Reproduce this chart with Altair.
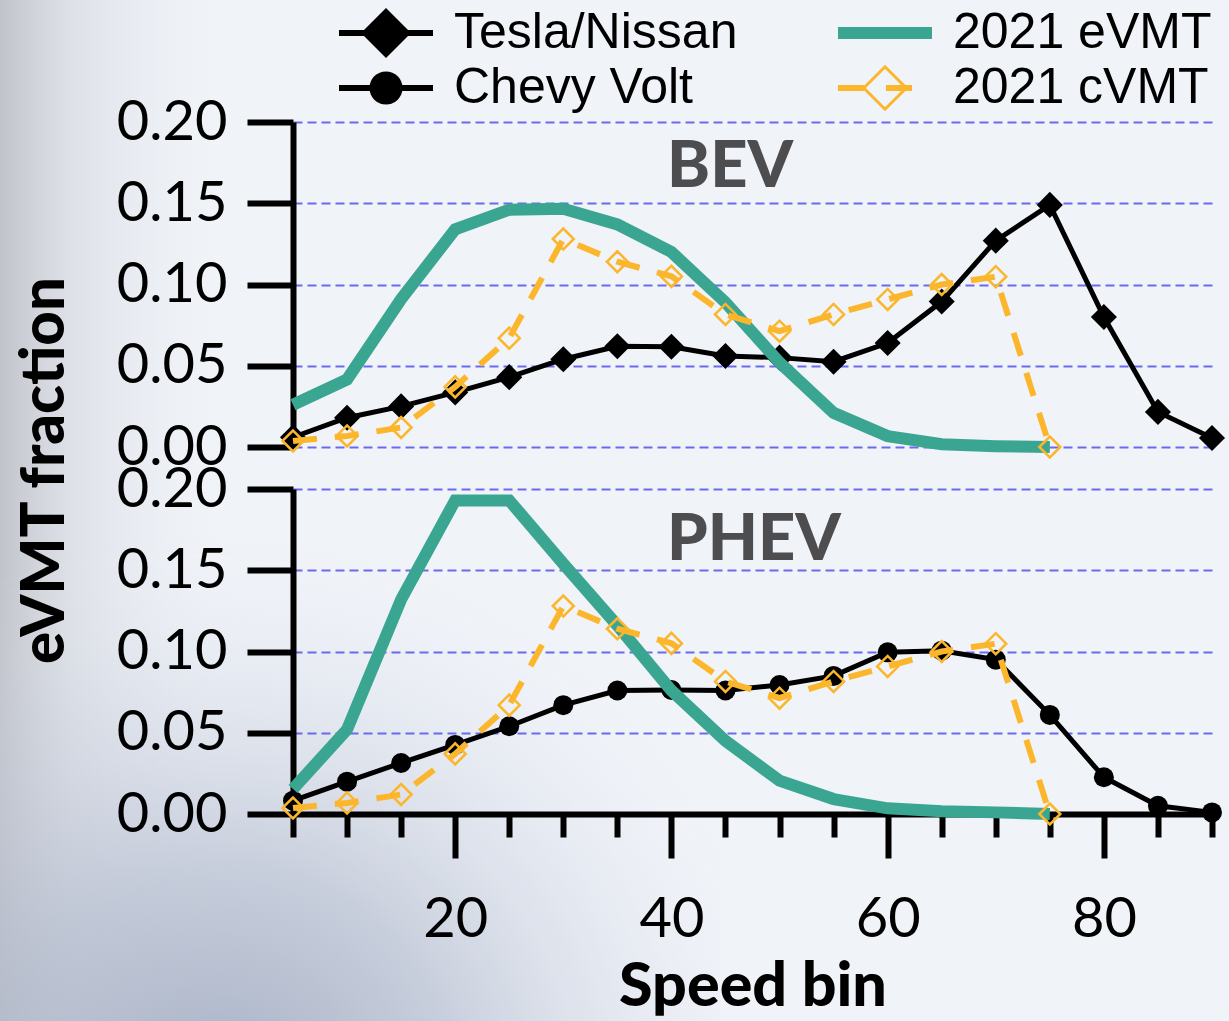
import altair as alt
import pandas as pd

# Speed bins (mph); the 2021 survey distributions stop at the 75 mph bin
speed_bins = [5, 10, 15, 20, 25, 30, 35, 40, 45, 50, 55, 60, 65, 70, 75, 80, 85, 90]
speed_bins_2021 = speed_bins[:15]

# Fraction of eVMT in each speed bin
tesla_nissan = [0.006, 0.018, 0.025, 0.0336, 0.043, 0.054, 0.062, 0.0617, 0.056,
                0.055, 0.0525, 0.064, 0.0895, 0.127, 0.149, 0.080, 0.0216, 0.0055]
chevy_volt = [0.0082, 0.0199, 0.0314, 0.0425, 0.054, 0.067, 0.076, 0.0763, 0.076,
              0.0794, 0.085, 0.0995, 0.1005, 0.095, 0.061, 0.0226, 0.0051, 0.001]
evmt_2021_bev = [0.026, 0.0416, 0.091, 0.134, 0.146, 0.1466, 0.137, 0.120, 0.089,
                 0.052, 0.021, 0.0067, 0.0017, 0.0005, 0.0]
evmt_2021_phev = [0.0154, 0.052, 0.132, 0.193, 0.193, 0.154, 0.116, 0.076, 0.045,
                  0.0205, 0.0092, 0.0035, 0.0017, 0.001, 0.0]
cvmt_2021 = [0.0037, 0.0068, 0.012, 0.037, 0.067, 0.128, 0.114, 0.105, 0.0816,
             0.0713, 0.0816, 0.0908, 0.100, 0.1048, 0.0]

series_names = ["Tesla/Nissan", "Chevy Volt", "2021 eVMT", "2021 cVMT"]
y_ticks = [0.0, 0.05, 0.10, 0.15, 0.20]

BLACK = "#000000"
TEAL = "#3aa692"
ORANGE = "#fbb62b"
GRID = "#6a6aee"
LABEL_GREY = "#4d4d4f"
BG = "#f0f3f8"

PANEL_W, PANEL_H = 919, 325
LEFT, CANVAS_W, CANVAS_H = 293, 1229, 1021
X_SCALE = alt.Scale(domain=[5, 90], nice=False, zero=False)
Y_SCALE = alt.Scale(domain=[0, 0.2], nice=False, zero=False)


def frame(series, xs, ys):
    return pd.DataFrame({"series": series, "speed": xs, "fraction": ys})


def y_axis(**extra):
    return alt.Axis(
        values=y_ticks, format=".2f",
        domainColor=BLACK, domainWidth=6,
        tickColor=BLACK, tickWidth=6, tickSize=46,
        labelFont="Lato", labelFontWeight=400, labelFontSize=56,
        labelColor=BLACK, labelPadding=20,
        grid=True, gridColor=GRID, gridDash=[9, 5], gridWidth=2,
        titleFont="Lato", titleFontWeight=900, titleFontSize=60, titleColor=BLACK,
        **extra,
    )


x_axis_bottom = alt.Axis(
    values=speed_bins,
    labelExpr="datum.value % 20 === 0 ? datum.label : ''",
    domainColor=BLACK, domainWidth=6,
    tickColor=BLACK, tickWidth=6,
    tickSize={"condition": {"test": "datum.value % 20 === 0", "value": 44}, "value": 23},
    labelFont="Lato", labelFontWeight=400, labelFontSize=56, labelColor=BLACK,
    labelPadding=34, labelFlush=False,
    grid=False,
    title="Speed bin",
    titleFont="Lato", titleFontWeight=900, titleFontSize=61, titleColor=BLACK,
    titleY=173, titleBaseline="middle",
)


def panel(label, vehicle, vehicle_vals, vehicle_shape, vehicle_size,
          evmt_vals, x_axis, y_ax, label_y):
    vehicle_df = frame(vehicle, speed_bins, vehicle_vals)
    evmt_df = frame("2021 eVMT", speed_bins_2021, evmt_vals)
    cvmt_df = frame("2021 cVMT", speed_bins_2021, cvmt_2021)

    x = alt.X("speed:Q", scale=X_SCALE, axis=x_axis)
    y = alt.Y("fraction:Q", scale=Y_SCALE, axis=y_ax)

    vehicle_line = alt.Chart(vehicle_df).mark_line(
        color=BLACK, strokeWidth=5).encode(x=x, y=y)
    vehicle_pts = alt.Chart(vehicle_df).mark_point(
        shape=vehicle_shape, filled=True, size=vehicle_size,
        color=BLACK, opacity=1).encode(x=x, y=y)
    evmt_line = alt.Chart(evmt_df).mark_line(
        color=TEAL, strokeWidth=12).encode(x=x, y=y)
    cvmt_line = alt.Chart(cvmt_df).mark_line(
        color=ORANGE, strokeWidth=6, strokeDash=[24, 18]).encode(x=x, y=y)
    cvmt_pts = alt.Chart(cvmt_df).mark_point(
        shape="diamond", filled=False, size=440, strokeWidth=2.5,
        color=ORANGE, opacity=1).encode(x=x, y=y)
    name = alt.Chart(pd.DataFrame({"panel": [label]})).mark_text(
        align="left", baseline="middle", font="Lato", fontWeight=900,
        fontSize=65, color=LABEL_GREY).encode(
        text="panel:N", x=alt.value(374), y=alt.value(label_y))

    return alt.layer(vehicle_line, vehicle_pts, evmt_line, cvmt_line,
                     cvmt_pts, name).properties(width=PANEL_W, height=PANEL_H)


bev = panel("BEV", "Tesla/Nissan", tesla_nissan, "diamond", 680,
            evmt_2021_bev, None,
            y_axis(title="eVMT fraction", titleX=-248, titleY=348,
                   titleAngle=270, titleAlign="center", titleBaseline="middle"),
            45)
phev = panel("PHEV", "Chevy Volt", chevy_volt, "circle", 400,
             evmt_2021_phev, x_axis_bottom, y_axis(title=None), 51)

# Soft grey backdrop shading along the left edge and the lower-left corner
backdrop = pd.DataFrame({"layer": ["backdrop"]})
edge_shade = alt.Chart(backdrop).mark_rect(
    clip=False,
    fill=alt.LinearGradient(
        gradient="linear", x1=0, x2=1, y1=0, y2=0,
        stops=[alt.GradientStop(offset=0, color="rgba(188,190,197,0.9)"),
               alt.GradientStop(offset=0.06, color="rgba(205,208,215,0.5)"),
               alt.GradientStop(offset=0.18, color="rgba(230,234,241,0)"),
               alt.GradientStop(offset=1, color="rgba(230,234,241,0)")]),
).encode(x=alt.value(-LEFT), x2=alt.value(CANVAS_W - LEFT),
         y=alt.value(0), y2=alt.value(CANVAS_H))
corner_shade = alt.Chart(backdrop).mark_rect(
    clip=False,
    fill=alt.RadialGradient(
        gradient="radial", x1=0.3, y1=0.97, r1=0, x2=0.3, y2=0.97, r2=0.8,
        stops=[alt.GradientStop(offset=0, color="rgba(160,170,192,0.95)"),
               alt.GradientStop(offset=0.4, color="rgba(174,183,202,0.65)"),
               alt.GradientStop(offset=0.75, color="rgba(200,207,222,0.25)"),
               alt.GradientStop(offset=1, color="rgba(230,235,243,0)")]),
).encode(x=alt.value(-LEFT), x2=alt.value(720 - LEFT),
         y=alt.value(520), y2=alt.value(CANVAS_H))

# Legend: two columns of two entries each
legend_df = pd.DataFrame({"series": series_names})
legend_df["col"] = legend_df.index // 2
legend_df["row"] = legend_df.index % 2

lx = alt.X("col:O", scale=alt.Scale(type="point", range=[93, 592], padding=0), axis=None)
ly = alt.Y("row:O", scale=alt.Scale(type="point", range=[33, 88], padding=0), axis=None)
lcolor = alt.Color("series:N", scale=alt.Scale(domain=series_names,
                   range=[BLACK, BLACK, TEAL, ORANGE]), legend=None)

leg_rules = alt.Chart(legend_df).mark_rule(xOffset=-47, x2Offset=47).encode(
    x=lx, x2="col:O", y=ly, color=lcolor,
    strokeWidth=alt.condition("datum.series === '2021 eVMT'", alt.value(12), alt.value(6)),
    strokeDash=alt.condition("datum.series === '2021 cVMT'", alt.value([26, 22]), alt.value([1, 0])),
)
leg_filled = alt.Chart(legend_df).transform_filter(
    alt.FieldOneOfPredicate(field="series", oneOf=series_names[:2])
).mark_point(filled=True, opacity=1, color=BLACK).encode(
    x=lx, y=ly,
    shape=alt.Shape("series:N", scale=alt.Scale(domain=series_names[:2],
                    range=["diamond", "circle"]), legend=None),
    size=alt.condition("datum.series === 'Tesla/Nissan'", alt.value(2500), alt.value(1100)),
)
leg_hollow = alt.Chart(legend_df).transform_filter(
    alt.FieldEqualPredicate(field="series", equal="2021 cVMT")
).mark_point(shape="diamond", filled=False, size=1800, strokeWidth=3,
             color=ORANGE, opacity=1).encode(x=lx, y=ly)
leg_text = alt.Chart(legend_df).mark_text(
    align="left", baseline="middle", dx=68, font="Liberation Sans",
    fontSize=50, color=BLACK).encode(x=lx, y=ly, text="series:N")

legend = alt.layer(edge_shade, corner_shade, leg_rules, leg_filled,
                   leg_hollow, leg_text).properties(width=PANEL_W, height=80)

chart = alt.vconcat(legend, bev, phev, spacing=42, bounds="flush").properties(
    autosize=alt.AutoSizeParams(type="none"),
    padding={"left": LEFT, "top": 0, "right": CANVAS_W - LEFT - PANEL_W, "bottom": CANVAS_H},
    background=BG,
).configure_view(strokeWidth=0)

chart.save("out.html", embed_options={"renderer": "svg", "actions": False})
